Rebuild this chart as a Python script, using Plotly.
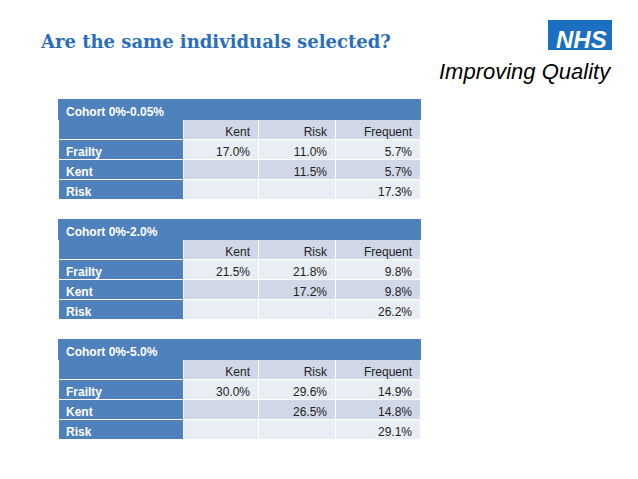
import plotly.graph_objects as go

cohorts = ["Cohort 0%-0.05%", "Cohort 0%-2.0%", "Cohort 0%-5.0%"]
col_labels = ["", "Kent", "Risk", "Frequent"]
row_labels = ["Frailty", "Kent", "Risk"]
kent_vals = [["17.0%", "", ""], ["21.5%", "", ""], ["30.0%", "", ""]]
risk_vals = [["11.0%", "11.5%", ""], ["21.8%", "17.2%", ""], ["29.6%", "26.5%", ""]]
freq_vals = [["5.7%", "5.7%", "17.3%"], ["9.8%", "9.8%", "26.2%"], ["14.9%", "14.8%", "29.1%"]]

W, H = 638, 479
OFF = 8  # page body margin
AOFF = 11  # extra vertical shift seen on annotations
BLUE = "#4f81bd"
LIGHT = "#e9edf4"
DARK = "#d0d8e8"
FONT = "Liberation Sans, Arial"


def px(x):
    return (x - OFF) / W


def py(y):
    return 1 - (y - OFF) / H


fig = go.Figure()
x0, x1 = 58, 420
tops = [99, 219, 339]
row_h = 20

for i, name in enumerate(cohorts):
    t = tops[i]
    fig.add_trace(go.Table(
        domain=dict(x=[px(x0), px(x1)], y=[py(t + row_h * 5 + 4), py(t)]),
        columnwidth=[125, 75, 77, 85],
        header=dict(values=[name, "", "", ""], height=row_h, align="left",
                    fill_color=BLUE, line=dict(color=BLUE, width=1),
                    font=dict(family=FONT, size=12, color="white", weight="bold")),
        cells=dict(values=[[""] + row_labels, ["Kent"] + kent_vals[i], ["Risk"] + risk_vals[i],
                           ["Frequent"] + freq_vals[i]],
                   height=row_h, align=["left", "right"],
                   fill_color=[[BLUE] * 4] + [[DARK, LIGHT, DARK, LIGHT]] * 3,
                   line=dict(color="white", width=1),
                   font=dict(family=FONT, size=12,
                             weight=["bold", "normal", "normal", "normal"],
                             color=[["white"] * 4, ["#222"] * 4, ["#222"] * 4, ["#222"] * 4])),
    ))

# title and logo
fig.add_annotation(x=px(38), y=py(40 - AOFF), xref="paper", yref="paper", showarrow=False, xanchor="left",
                   text="<b>Are the same individuals selected?</b>",
                   font=dict(family="DejaVu Serif", size=18, color="#2a6ebb"))
fig.add_shape(type="rect", xref="paper", yref="paper", x0=px(548), x1=px(612),
              y0=py(50), y1=py(20), fillcolor="#1a6fc1", line=dict(width=0), layer="below")
fig.add_annotation(x=px(609), y=py(35 - AOFF), xref="paper", yref="paper", showarrow=False,
                   xanchor="right",
                   text="<b><i>NHS</i></b>", font=dict(family=FONT, size=24, color="white"))
fig.add_annotation(x=px(614), y=py(68 - AOFF), xref="paper", yref="paper", showarrow=False, xanchor="right",
                   text="<i>Improving Quality</i>", font=dict(family=FONT, size=22, color="black"))

fig.update_layout(width=W, height=H, margin=dict(l=0, r=0, t=0, b=0),
                  paper_bgcolor="white", plot_bgcolor="white")
fig.write_html("out.html")
